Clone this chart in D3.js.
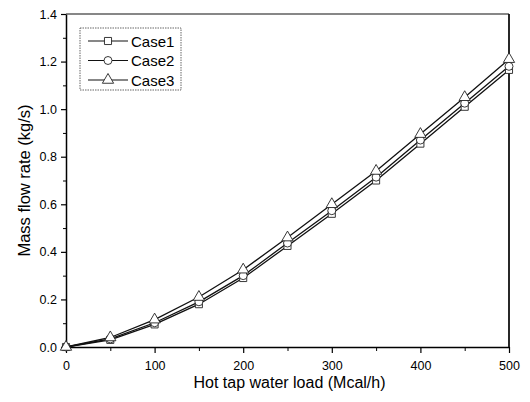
<!DOCTYPE html>
<html>
<head>
<meta charset="utf-8">
<script src="https://cdn.jsdelivr.net/npm/d3@7"></script>
<style>
  body { margin: 0; background: #fff; }
  text { font-family: "Liberation Sans", Arial, sans-serif; fill: #000; }
</style>
</head>
<body>
<div id="chart"></div>
<script>
let svgWidth = 530;
let svgHeight = 402;

let margin = { top: 14, right: 21, bottom: 55, left: 66 };
let width = svgWidth - margin.left - margin.right;
let height = svgHeight - margin.top - margin.bottom;

// data
let loads = [0, 50, 100, 150, 200, 250, 300, 350, 400, 450, 500];
let case1 = [0, 0.03, 0.095, 0.18, 0.29, 0.425, 0.56, 0.70, 0.855, 1.01, 1.165];
let case2 = [0, 0.034, 0.102, 0.19, 0.30, 0.437, 0.573, 0.714, 0.87, 1.025, 1.18];
let case3 = [0, 0.04, 0.115, 0.21, 0.325, 0.46, 0.60, 0.74, 0.895, 1.05, 1.21];
let seriesNames = ["Case1", "Case2", "Case3"];
let seriesValues = [case1, case2, case3];
let markerTypes = [d3.symbolSquare, d3.symbolCircle, d3.symbolTriangle];
let markerSizes = [50, 50, 55];
let xTicks = [0, 100, 200, 300, 400, 500];
let yTicks = [0, 0.2, 0.4, 0.6, 0.8, 1.0, 1.2, 1.4];

let svg = d3.select("#chart")
    .append("svg")
    .attr("width", svgWidth)
    .attr("height", svgHeight);

let chartGroup = svg.append("g")
    .attr("transform", `translate(${margin.left}, ${margin.top})`);

let x = d3.scaleLinear().domain([0, 500]).range([0, width]);
let y = d3.scaleLinear().domain([0, 1.4]).range([height, 0]);

// minor ticks
chartGroup.append("g")
    .attr("transform", `translate(0, ${height})`)
    .call(d3.axisBottom(x).tickValues(d3.range(50, 500, 100)).tickSize(4).tickFormat(""))
    .call(g => g.select(".domain").remove());
chartGroup.append("g")
    .call(d3.axisLeft(y).tickValues(d3.range(0.1, 1.4, 0.2)).tickSize(3).tickFormat(""))
    .call(g => g.select(".domain").remove());

// major axes
let xAxis = chartGroup.append("g")
    .attr("transform", `translate(0, ${height})`)
    .call(d3.axisBottom(x).tickValues(xTicks).tickSize(6).tickSizeOuter(0).tickPadding(8));
let yAxis = chartGroup.append("g")
    .call(d3.axisLeft(y).tickValues(yTicks).tickFormat(d3.format(".1f")).tickSize(5).tickSizeOuter(0).tickPadding(4));

[xAxis, yAxis].forEach(a => {
    a.selectAll("text").attr("font-size", 12.5).style("font-family", "Liberation Sans, Arial, sans-serif");
    a.select(".domain").attr("stroke-width", 1.5);
    a.selectAll(".tick line").attr("stroke-width", 1.2);
});

// frame top and right
chartGroup.append("line")
    .attr("x1", 0).attr("x2", width).attr("y1", 0).attr("y2", 0)
    .attr("stroke", "#111").attr("stroke-width", 1.2);
chartGroup.append("line")
    .attr("x1", width).attr("x2", width).attr("y1", 0).attr("y2", height)
    .attr("stroke", "#111").attr("stroke-width", 1.8);

// lines
let line = d3.line()
    .x((d, i) => x(loads[i]))
    .y(d => y(d));

seriesValues.forEach((vals, k) => {
    chartGroup.append("path")
        .datum(vals)
        .attr("fill", "none")
        .attr("stroke", "#111")
        .attr("stroke-width", 1.3)
        .attr("d", line);
});

seriesValues.forEach((vals, k) => {
    chartGroup.append("g").selectAll("path")
        .data(vals)
        .enter()
        .append("path")
        .attr("transform", (d, i) => `translate(${x(loads[i])}, ${y(d)})`)
        .attr("d", d3.symbol().type(markerTypes[k]).size(markerSizes[k]))
        .attr("fill", "#fff")
        .attr("stroke", "#222")
        .attr("stroke-width", 0.9);
});

// legend
let legend = chartGroup.append("g")
    .attr("transform", `translate(${80 - margin.left}, ${28 - margin.top})`);
legend.append("rect")
    .attr("width", 101).attr("height", 62)
    .attr("fill", "#fff")
    .attr("stroke", "#666")
    .attr("stroke-width", 1)
    .attr("stroke-dasharray", "1.5,1");

seriesNames.forEach((name, k) => {
    let row = legend.append("g").attr("transform", `translate(0, ${13 + k * 19.5})`);
    row.append("line")
        .attr("x1", 8).attr("x2", 48)
        .attr("stroke", "#111").attr("stroke-width", 1.2);
    row.append("path")
        .attr("transform", "translate(28, 0)")
        .attr("d", d3.symbol().type(markerTypes[k]).size(markerSizes[k]))
        .attr("fill", "#fff").attr("stroke", "#222").attr("stroke-width", 0.9);
    row.append("text")
        .attr("x", 51).attr("y", 5.5)
        .attr("font-size", 15)
        .text(name);
});

// axis titles
chartGroup.append("text")
    .attr("x", width / 2 + 2)
    .attr("y", height + 41)
    .attr("text-anchor", "middle")
    .attr("font-size", 16)
    .text("Hot tap water load (Mcal/h)");

chartGroup.append("text")
    .attr("transform", "rotate(-90)")
    .attr("x", -height / 2)
    .attr("y", -36)
    .attr("text-anchor", "middle")
    .attr("font-size", 16.5)
    .text("Mass flow rate (kg/s)");
</script>
</body>
</html>
